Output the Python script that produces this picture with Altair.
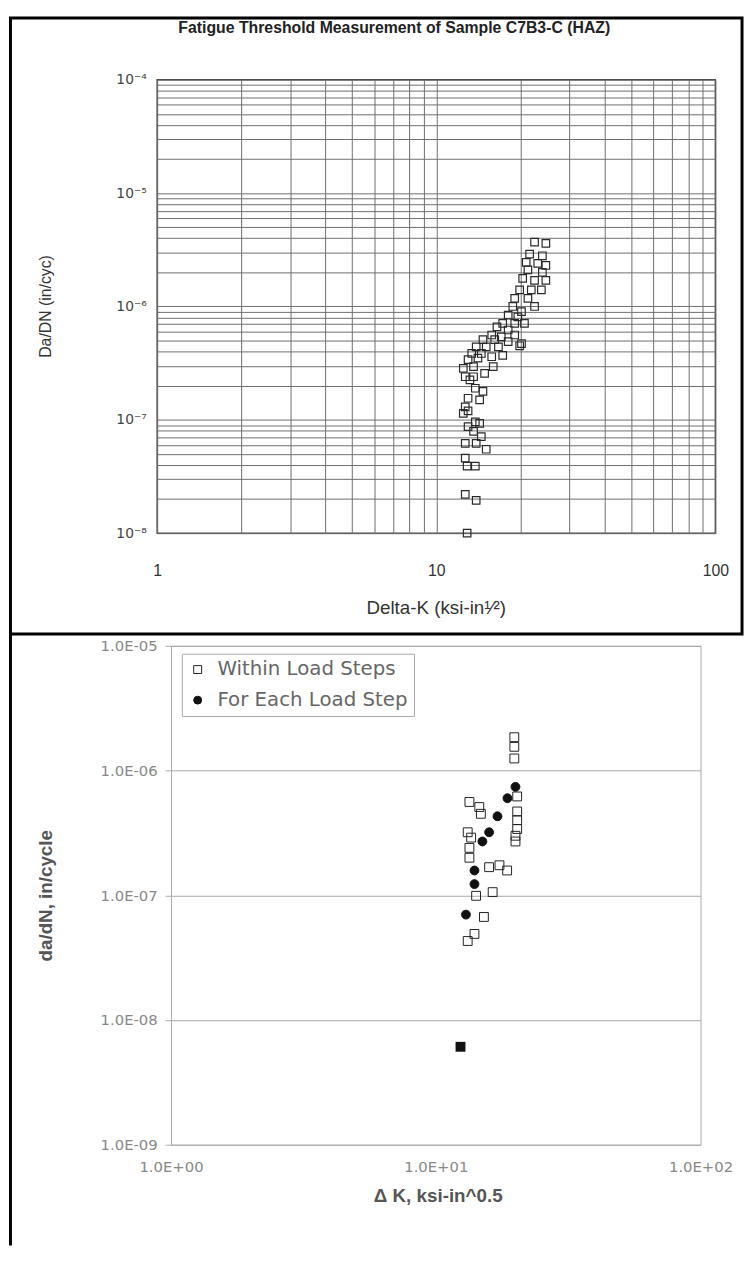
import altair as alt
import pandas as pd

# ---------------- Top panel data ----------------
top_title = "Fatigue Threshold Measurement of Sample C7B3-C (HAZ)"
top_dk = [22.5, 24.7, 24.0, 21.6, 21.0, 23.1, 24.7, 21.3, 24.0, 20.4,
          22.5, 24.7, 19.9, 21.9, 23.8, 19.1, 21.3, 18.8, 22.5, 20.2,
          18.1, 19.6, 17.3, 19.1, 20.7, 16.5, 18.1, 15.8, 17.1, 19.1,
          14.7, 16.2, 18.1, 20.2, 13.9, 15.1, 16.7, 13.4, 14.5, 15.8,
          17.3, 13.0, 19.9, 14.1, 12.5, 13.6, 14.9, 16.0, 12.7, 13.6,
          13.2, 13.8, 14.7, 13.0, 14.3, 12.7, 12.5, 13.0, 13.8, 14.3,
          13.0, 13.6, 14.5, 12.7, 13.9, 15.1, 12.7, 12.9, 13.8, 12.7,
          13.9, 12.9]
top_dadn = [3.7e-6, 3.6e-6, 2.8e-6, 2.9e-6, 2.45e-6, 2.4e-6, 2.3e-6, 2.1e-6, 2.0e-6, 1.77e-6,
            1.7e-6, 1.7e-6, 1.4e-6, 1.4e-6, 1.4e-6, 1.18e-6, 1.18e-6, 1.0e-6, 1.0e-6, 9.0e-7,
            8.4e-7, 8.1e-7, 7.1e-7, 7.1e-7, 7.1e-7, 6.6e-7, 6.2e-7, 5.6e-7, 5.4e-7, 5.6e-7,
            5.1e-7, 5.1e-7, 4.9e-7, 4.7e-7, 4.4e-7, 4.4e-7, 4.4e-7, 3.85e-7, 3.85e-7, 3.6e-7,
            3.7e-7, 3.4e-7, 4.5e-7, 3.5e-7, 2.84e-7, 2.95e-7, 2.57e-7, 2.95e-7, 2.4e-7, 2.4e-7,
            2.25e-7, 1.9e-7, 1.78e-7, 1.55e-7, 1.5e-7, 1.3e-7, 1.14e-7, 1.2e-7, 9.6e-8, 9.3e-8,
            8.7e-8, 7.9e-8, 7.1e-8, 6.2e-8, 6.2e-8, 5.5e-8, 4.6e-8, 3.9e-8, 3.9e-8, 2.2e-8,
            1.95e-8, 1.0e-8]
top_x_title = "Delta-K (ksi-in\u00b9\u2044\u00b2)"
top_y_title = "Da/DN (in/cyc)"
top_x_ticks = [1.0, 10.0, 100.0]
top_x_labels = ["1", "10", "100"]
top_y_ticks = [1e-8, 1e-7, 1e-6, 1e-5, 1e-4]
top_y_labels = ["10\u207b\u2078", "10\u207b\u2077", "10\u207b\u2076", "10\u207b\u2075", "10\u207b\u2074"]
grid_mantissas = [1, 2, 3, 4, 5, 6, 7, 8, 9]
top_x_decades = [0, 1]
top_y_decades = [-8, -7, -6, -5]

# ---------------- Bottom panel data ----------------
series_names = ["Within Load Steps", "For Each Load Step"]
within_dk = [19.8, 19.8, 19.8, 20.3, 13.4, 14.6, 14.8, 20.3, 20.3, 20.3,
             20.0, 20.0, 13.2, 13.6, 13.4, 13.4, 15.9, 17.4, 18.6, 16.4,
             14.2, 15.2, 14.0, 13.2]
within_dadn = [1.85e-6, 1.55e-6, 1.25e-6, 6.2e-7, 5.6e-7, 5.1e-7, 4.5e-7, 4.7e-7, 4.0e-7, 3.4e-7,
               3.0e-7, 2.7e-7, 3.2e-7, 2.9e-7, 2.4e-7, 2.0e-7, 1.68e-7, 1.74e-7, 1.58e-7, 1.06e-7,
               9.9e-8, 6.7e-8, 4.9e-8, 4.3e-8]
each_dk = [20.0, 18.65, 17.1, 15.9, 15.0, 14.0, 14.0, 13.0]
each_dadn = [7.4e-7, 6.0e-7, 4.3e-7, 3.2e-7, 2.7e-7, 1.58e-7, 1.23e-7, 7.0e-8]
first_dk = [12.4]
first_dadn = [6.1e-9]
bot_x_title = "\u0394 K, ksi-in^0.5"
bot_y_title = "da/dN, in/cycle"
bot_x_ticks = [1.0, 10.0, 100.0]
bot_x_labels = ["1.0E+00", "1.0E+01", "1.0E+02"]
bot_y_ticks = [1e-9, 1e-8, 1e-7, 1e-6, 1e-5]
bot_y_labels = ["1.0E-09", "1.0E-08", "1.0E-07", "1.0E-06", "1.0E-05"]


def label_expr(vals, labs):
    s = ""
    for v, l in zip(vals, labs):
        s += f"datum.value == {v!r} ? '{l}' : "
    return s + "''"


x_grid = [float(f"{m}e{k}") for k in top_x_decades for m in grid_mantissas] + [100.0]
y_grid = [float(f"{m}e{k}") for k in top_y_decades for m in grid_mantissas] + [1e-4]

TW, TH = 565, 459
BW, BH = 536, 505

# ---------------- Top chart ----------------
top_df = pd.DataFrame({"dk": top_dk, "dadn": top_dadn})
one = pd.DataFrame({"t": [top_title]})

tx = alt.X("dk:Q",
           scale=alt.Scale(type="log", domain=[1, 100], nice=False),
           axis=alt.Axis(values=x_grid, labelExpr=label_expr(top_x_ticks, top_x_labels),
                         grid=True, gridColor="#6e6e6e", gridWidth=1,
                         ticks=False, tickSize=0, domain=False,
                         labelPadding=30, labelFont="Liberation Sans", labelFontSize=16,
                         labelColor="#333", labelFlush=False, labelOverlap=False,
                         title=top_x_title, titleX=282, titleY=75, titleAlign="center",
                         titleBaseline="middle", titleFont="Liberation Sans",
                         titleFontSize=19, titleFontWeight="normal", titleColor="#333"))
ty = alt.Y("dadn:Q",
           scale=alt.Scale(type="log", domain=[1e-8, 1e-4], nice=False),
           axis=alt.Axis(values=y_grid, labelExpr=label_expr(top_y_ticks, top_y_labels),
                         grid=True, gridColor="#6e6e6e", gridWidth=1,
                         ticks=False, tickSize=0, domain=False,
                         labelPadding=11, labelFont="DejaVu Sans", labelFontSize=14,
                         labelColor="#444", labelFlush=False, labelOverlap=False,
                         title=top_y_title, titleX=-113, titleY=229, titleAlign="center",
                         titleBaseline="middle", titleFont="Liberation Sans",
                         titleFontSize=16, titleFontWeight="normal", titleColor="#333"))

top_pts = alt.Chart(top_df).mark_point(shape="square", filled=False, size=58,
                                        stroke="#2a2a2a", strokeWidth=1.2, opacity=1).encode(x=tx, y=ty)
top_title_mark = alt.Chart(one).mark_text(font="Liberation Sans", fontSize=16, fontWeight="bold",
                                          color="#222", align="center", baseline="middle").encode(
    text="t:N", x=alt.value(240), y=alt.value(-52))
top_frame = alt.Chart(one).mark_rect(fillOpacity=0, stroke="black", strokeWidth=3).encode(
    x=alt.value(-148.5), x2=alt.value(592), y=alt.value(-62.5), y2=alt.value(561))

top = alt.layer(top_frame, top_pts, top_title_mark).properties(
    width=TW, height=TH, view=alt.ViewBackground(stroke="#444", strokeWidth=1.5))

# ---------------- Bottom chart ----------------
bot_df = pd.DataFrame({
    "dk": within_dk + each_dk,
    "dadn": within_dadn + each_dadn,
    "series": [series_names[0]] * len(within_dk) + [series_names[1]] * len(each_dk),
})
first_df = pd.DataFrame({"dk": first_dk, "dadn": first_dadn})

bx = alt.X("dk:Q",
           scale=alt.Scale(type="log", domain=[1, 100], nice=False),
           axis=alt.Axis(values=bot_x_ticks, labelExpr=label_expr(bot_x_ticks, bot_x_labels),
                         grid=False, ticks=False, tickSize=0, domain=False,
                         labelPadding=15, labelFont="DejaVu Sans", labelFontSize=15,
                         labelColor="#888", labelFlush=False, labelOverlap=False,
                         title=bot_x_title, titleX=270, titleY=51, titleAlign="center",
                         titleBaseline="middle", titleFont="Liberation Sans",
                         titleFontSize=19, titleFontWeight="bold", titleColor="#555"))
by = alt.Y("dadn:Q",
           scale=alt.Scale(type="log", domain=[1e-9, 1e-5], nice=False),
           axis=alt.Axis(values=bot_y_ticks, labelExpr=label_expr(bot_y_ticks, bot_y_labels),
                         grid=True, gridColor="#a8a8a8", gridWidth=1,
                         ticks=True, tickSize=6, tickColor="#aaa", domain=False,
                         labelPadding=8, labelFont="DejaVu Sans", labelFontSize=15,
                         labelColor="#888", labelFlush=False, labelOverlap=False,
                         title=bot_y_title, titleX=-127, titleY=BH / 2, titleAlign="center",
                         titleBaseline="middle", titleFont="Liberation Sans",
                         titleFontSize=19, titleFontWeight="bold", titleColor="#555"))

leg = alt.Legend(title=None, orient="none", legendX=11, legendY=8, direction="vertical",
                 labelFont="DejaVu Sans", labelFontSize=20, labelColor="#666", labelLimit=400,
                 symbolSize=64, symbolStrokeWidth=1,
                 rowPadding=11, labelOffset=10, padding=6, strokeColor="#aaa", fillColor="white")

bot_pts = alt.Chart(bot_df).mark_point(filled=True, size=80, strokeWidth=1, opacity=1).encode(
    x=bx, y=by,
    shape=alt.Shape("series:N", scale=alt.Scale(domain=series_names, range=["square", "circle"]),
                    legend=leg),
    fill=alt.Fill("series:N", scale=alt.Scale(domain=series_names, range=["transparent", "#111"]),
                  legend=leg),
    stroke=alt.Stroke("series:N", scale=alt.Scale(domain=series_names, range=["#222", "#111"]),
                      legend=leg),
)
bot_first = alt.Chart(first_df).mark_square(filled=True, size=100, color="#111", opacity=1).encode(
    x=bx, y=by)
bot_border = alt.Chart(one).mark_rule(color="black", strokeWidth=3).encode(
    x=alt.value(-162.5), y=alt.value(-12), y2=alt.value(607))

bottom = alt.layer(bot_border, bot_pts, bot_first).properties(
    width=BW, height=BH, view=alt.ViewBackground(stroke="#aaa", strokeWidth=1))

spacer = alt.Chart(one).mark_point(opacity=0).encode(
    x=alt.X("t:N", axis=None), y=alt.Y("t:N", axis=None)).properties(width=14, height=BH)

bottom_row = alt.hconcat(spacer, bottom, spacing=0, bounds="flush").resolve_scale(
    shape="independent", fill="independent", stroke="independent").resolve_legend(
    shape="independent", fill="independent", stroke="independent")

chart = alt.vconcat(top, bottom_row, spacing=114, bounds="flush").resolve_scale(
    shape="independent", fill="independent", stroke="independent").resolve_legend(
    shape="independent", fill="independent", stroke="independent").properties(
    padding=0, background="white"
).configure_view(stroke=None)

chart.save("out.html", embed_options={"renderer": "svg", "actions": False})
